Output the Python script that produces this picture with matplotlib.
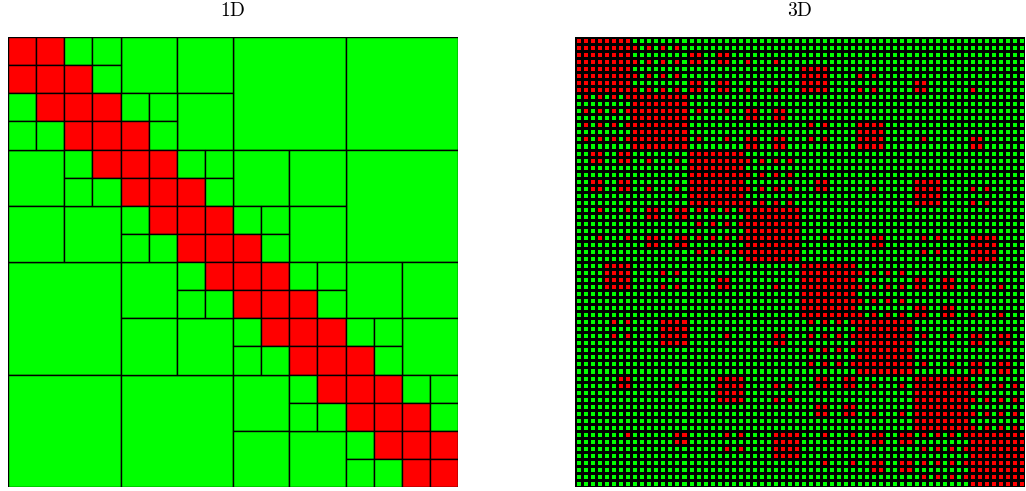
import numpy as np
import matplotlib.pyplot as plt
from matplotlib.patches import Rectangle
from matplotlib.colors import ListedColormap

plt.rcParams['mathtext.fontset'] = 'cm'

RED = '#ff0000'
GREEN = '#00ff00'

# ---- 1D: 16x16 hierarchical block partition ----
n1d = 16
# admissible (green) blocks bigger than one cell: (row, col, size)
green_blocks_1d = [
    (0, 8, 4), (0, 12, 4), (4, 12, 4), (8, 0, 4), (12, 0, 4), (12, 4, 4),
    (0, 4, 2), (0, 6, 2), (2, 6, 2), (4, 0, 2), (4, 8, 2), (4, 10, 2),
    (6, 0, 2), (6, 2, 2), (6, 10, 2), (8, 4, 2), (8, 12, 2), (8, 14, 2),
    (10, 4, 2), (10, 6, 2), (10, 14, 2), (12, 8, 2), (14, 8, 2), (14, 10, 2),
]
# single cells: '#' dense (red), '.' admissible (green), ' ' part of a bigger block
fine_1d = [
    "##..            ",
    "###.            ",
    ".###..          ",
    "..###.          ",
    "  .###..        ",
    "  ..###.        ",
    "    .###..      ",
    "    ..###.      ",
    "      .###..    ",
    "      ..###.    ",
    "        .###..  ",
    "        ..###.  ",
    "          .###..",
    "          ..###.",
    "            .###",
    "            ..##",
]

# ---- 3D: 64x64 near-field pattern, one hex string per row (bit set = red) ----
near_3d = [
    "FF00000000000000", "FFAA000000000000", "FF00CC0000000000", "FFAACC8800000000",
    "FF000000F0000000", "FFAA0000F0A00000", "FF00CC00F000C000", "FFAACC88F0A0C080",
    "55FF000000000000", "00FF000000000000", "55FF44CC00000000", "00FF00CC00000000",
    "55FF000050F00000", "00FF000000F00000", "55FF44CC50F040C0", "00FF00CC00F000C0",
    "3300FF0000000000", "3322FFAA00000000", "0000FF0000000000", "0000FFAA00000000",
    "3300FF003000F000", "3322FFAA3020F0A0", "0000FF000000F000", "0000FFAA0000F0A0",
    "113355FF00000000", "003300FF00000000", "000055FF00000000", "000000FF00000000",
    "113355FF103050F0", "003300FF003000F0", "000055FF000050F0", "000000FF000000F0",
    "0F000000FF000000", "0F0A0000FFAA0000", "0F000C00FF00CC00", "0F0A0C08FFAACC88",
    "00000000FF000000", "00000000FFAA0000", "00000000FF00CC00", "00000000FFAACC88",
    "050F000055FF0000", "000F000000FF0000", "050F040C55FF44CC", "000F000C00FF00CC",
    "0000000055FF0000", "0000000000FF0000", "0000000055FF44CC", "0000000000FF00CC",
    "03000F003300FF00", "03020F0A3322FFAA", "00000F000000FF00", "00000F0A0000FFAA",
    "000000003300FF00", "000000003322FFAA", "000000000000FF00", "000000000000FFAA",
    "0103050F113355FF", "0003000F003300FF", "0000050F000055FF", "0000000F000000FF",
    "00000000113355FF", "00000000003300FF", "00000000000055FF", "00000000000000FF",
]

mat3d = np.array([[int(b) for h in row for b in format(int(h, 16), '04b')]
                  for row in near_3d])

fig = plt.figure(figsize=(10.26, 4.91), dpi=100)
ax1 = fig.add_axes([8 / 1026, 4 / 491, 450 / 1026, 450 / 491])
ax2 = fig.add_axes([575 / 1026, 4 / 491, 450 / 1026, 450 / 491])

for r, c, s in green_blocks_1d:
    ax1.add_patch(Rectangle((c, r), s, s, facecolor=GREEN, edgecolor='k', lw=1.0))
for r, line in enumerate(fine_1d):
    for c, ch in enumerate(line):
        if ch == ' ':
            continue
        col = RED if ch == '#' else GREEN
        ax1.add_patch(Rectangle((c, r), 1, 1, facecolor=col, edgecolor='k', lw=1.0))
ax1.set_xlim(0, n1d)
ax1.set_ylim(n1d, 0)
ax1.set_axis_off()
ax1.set_title(r'$\mathrm{1D}$', fontsize=14, pad=15)

n3d = mat3d.shape[0]
ax2.pcolormesh(np.arange(n3d + 1), np.arange(n3d + 1), mat3d,
               cmap=ListedColormap([GREEN, RED]), vmin=0, vmax=1,
               edgecolors='k', linewidth=0.85)
ax2.set_xlim(0, n3d)
ax2.set_ylim(n3d, 0)
ax2.set_axis_off()
ax2.set_title(r'$\mathrm{3D}$', fontsize=14, pad=15)

fig.savefig('out.png', dpi=100)
